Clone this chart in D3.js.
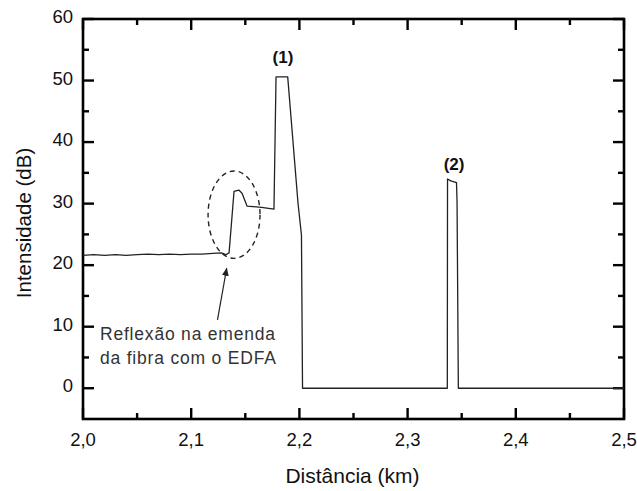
<!DOCTYPE html>
<html>
<head>
<meta charset="utf-8">
<script src="https://cdn.jsdelivr.net/npm/d3@7"></script>
<style>
  body { margin: 0; background: #fff; }
  svg text { font-family: "Liberation Sans", Arial, sans-serif; }
</style>
</head>
<body>
<div class="chart"></div>
<script>
// OTDR trace data
var distance = [2.000, 2.010, 2.020, 2.030, 2.040, 2.050, 2.060, 2.070, 2.080, 2.090,
  2.100, 2.110, 2.120, 2.128, 2.132, 2.135, 2.1396, 2.144, 2.147, 2.1516,
  2.165, 2.1765, 2.1784, 2.1892, 2.1987, 2.2019, 2.2029, 2.3367, 2.3369, 2.3400,
  2.3452, 2.3457, 2.3469, 2.500];
var intensity = [21.6, 21.7, 21.6, 21.7, 21.6, 21.7, 21.8, 21.7, 21.8, 21.7,
  21.8, 21.8, 21.9, 22.0, 21.7, 22.0, 32.0, 32.2, 31.7, 29.6,
  29.4, 29.1, 50.6, 50.6, 30.1, 24.9, 0, 0, 34.0, 33.7,
  33.4, 30.4, 0, 0];

var xTicks = [2.0, 2.1, 2.2, 2.3, 2.4, 2.5];
var xMinor = [2.05, 2.15, 2.25, 2.35, 2.45];
var yTicks = [0, 10, 20, 30, 40, 50, 60];
var yMinor = [5, 15, 25, 35, 45, 55];

var peakLabels = [
  {text: "(1)", x: 2.1848, y: 52.9},
  {text: "(2)", x: 2.3429, y: 35.5}
];

var svgWidth = 637;
var svgHeight = 491;
var margin = {top: 19, right: 13, bottom: 72, left: 83};
var width = svgWidth - margin.left - margin.right;
var height = svgHeight - margin.top - margin.bottom;

var svg = d3.select(".chart")
  .append("svg")
  .attr("width", svgWidth)
  .attr("height", svgHeight);

var chartGroup = svg.append("g")
  .attr("transform", `translate(${margin.left}, ${margin.top})`);

var x = d3.scaleLinear().domain([2.0, 2.5]).range([0, width]);
var y = d3.scaleLinear().domain([-5, 60]).range([height, 0]);

var fmtX = d => d3.format(".1f")(d).replace(".", ",");
var font = "'Liberation Sans', Arial, sans-serif";

// frame
chartGroup.append("rect")
  .attr("width", width)
  .attr("height", height)
  .attr("fill", "none")
  .attr("stroke", "#000")
  .attr("stroke-width", 2.6);

// inward ticks on all four sides
var tickGroup = chartGroup.append("g")
  .attr("stroke", "#000")
  .attr("stroke-width", 2.4);

function xTickMarks(values, len) {
  values.forEach(d => {
    tickGroup.append("line").attr("x1", x(d)).attr("x2", x(d)).attr("y1", height).attr("y2", height - len);
    tickGroup.append("line").attr("x1", x(d)).attr("x2", x(d)).attr("y1", 0).attr("y2", len);
  });
}
function yTickMarks(values, len) {
  values.forEach(d => {
    tickGroup.append("line").attr("y1", y(d)).attr("y2", y(d)).attr("x1", 0).attr("x2", len);
    tickGroup.append("line").attr("y1", y(d)).attr("y2", y(d)).attr("x1", width).attr("x2", width - len);
  });
}
xTickMarks(xTicks, 11);
xTickMarks(xMinor, 6);
yTickMarks(yTicks, 11);
yTickMarks(yMinor, 6);

// tick labels
chartGroup.selectAll(".xlabel")
  .data(xTicks)
  .enter()
  .append("text")
  .attr("class", "xlabel")
  .attr("x", d => x(d))
  .attr("y", height + 27)
  .attr("text-anchor", "middle")
  .attr("font-size", "18.5px")
  .style("font-family", font)
  .attr("fill", "#111")
  .text(fmtX);

chartGroup.selectAll(".ylabel")
  .data(yTicks)
  .enter()
  .append("text")
  .attr("class", "ylabel")
  .attr("x", -10)
  .attr("y", d => y(d) + 4)
  .attr("text-anchor", "end")
  .attr("font-size", "18.5px")
  .style("font-family", font)
  .attr("fill", "#111")
  .text(d => d);

// trace
var points = distance.map((d, i) => [d, intensity[i]]);
var line = d3.line().x(d => x(d[0])).y(d => y(d[1]));

chartGroup.append("path")
  .datum(points)
  .attr("d", line)
  .attr("fill", "none")
  .attr("stroke", "#222")
  .attr("stroke-width", 1.3)
  .attr("stroke-linejoin", "round");

// dashed ellipse around the splice reflection
chartGroup.append("ellipse")
  .attr("cx", x(2.1396))
  .attr("cy", y(28.2))
  .attr("rx", x(2.1636) - x(2.1396))
  .attr("ry", y(21.1) - y(28.2))
  .attr("fill", "none")
  .attr("stroke", "#222")
  .attr("stroke-width", 1.4)
  .attr("stroke-dasharray", "5,4");

// arrow
svg.append("defs").append("marker")
  .attr("id", "arrowhead")
  .attr("viewBox", "0 0 10 10")
  .attr("refX", 9).attr("refY", 5)
  .attr("markerWidth", 7).attr("markerHeight", 7)
  .attr("orient", "auto")
  .append("path")
  .attr("d", "M0,1 L10,5 L0,9 Z")
  .attr("fill", "#222");

chartGroup.append("line")
  .attr("x1", x(2.1243)).attr("y1", y(11.1))
  .attr("x2", x(2.1328)).attr("y2", y(19.5))
  .attr("stroke", "#222")
  .attr("stroke-width", 1.2)
  .attr("marker-end", "url(#arrowhead)");

// annotation
var note = chartGroup.append("text")
  .attr("font-size", "17.5px")
  .attr("letter-spacing", "0.8px")
  .style("font-family", font)
  .attr("fill", "#333");
note.append("tspan").attr("x", x(2.0157)).attr("y", y(7.9)).text("Reflexão na emenda");
note.append("tspan").attr("x", x(2.0157)).attr("y", y(4.0)).text("da fibra com o EDFA");

// peak labels
chartGroup.selectAll(".peak")
  .data(peakLabels)
  .enter()
  .append("text")
  .attr("class", "peak")
  .attr("x", d => x(d.x))
  .attr("y", d => y(d.y))
  .attr("text-anchor", "middle")
  .attr("font-size", "17px")
  .attr("font-weight", "bold")
  .style("font-family", font)
  .attr("fill", "#111")
  .text(d => d.text);

// axis titles
svg.append("text")
  .attr("transform", "translate(31, 223) rotate(-90)")
  .attr("text-anchor", "middle")
  .attr("font-size", "20.5px")
  .style("font-family", font)
  .attr("fill", "#111")
  .text("Intensidade (dB)");

svg.append("text")
  .attr("x", 352.5)
  .attr("y", 483)
  .attr("text-anchor", "middle")
  .attr("font-size", "21px")
  .style("font-family", font)
  .attr("fill", "#111")
  .text("Distância (km)");
</script>
</body>
</html>
